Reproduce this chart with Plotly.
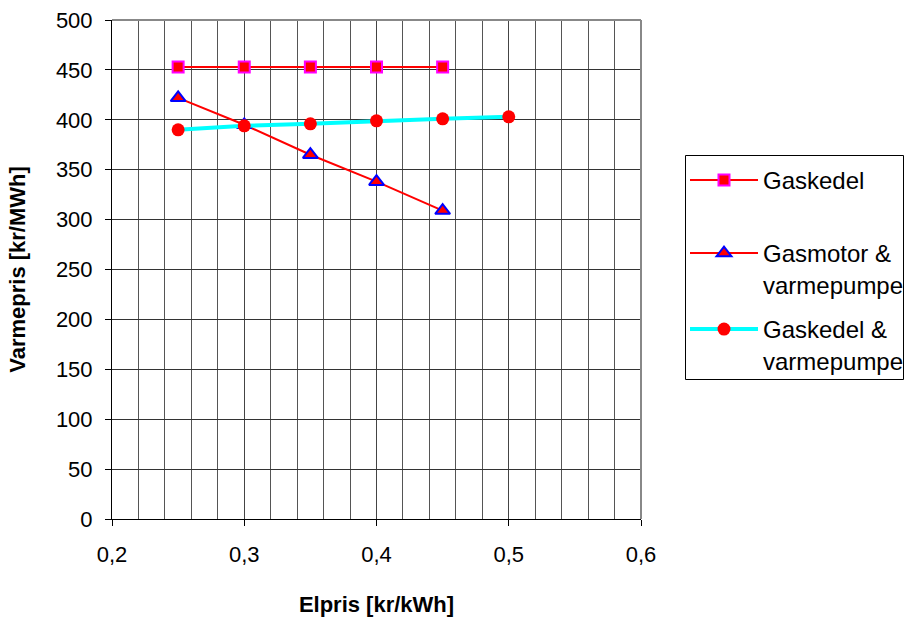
import plotly.graph_objects as go

elpris = [0.25, 0.30, 0.35, 0.40, 0.45]
elpris3 = [0.25, 0.30, 0.35, 0.40, 0.45, 0.50]
gaskedel = [453, 453, 453, 453, 453]
gasmotor_vp = [422, 395, 365, 338, 309]
gaskedel_vp = [390, 394, 396, 399, 401, 403]

FONT = "Liberation Sans, Arial, sans-serif"
FS = 22
LFS = 24

# plot area in pixels (for placing legend decorations)
L, R, T, B = 112, 264, 20, 98
W, H = 905, 617
PW, PH = W - L - R, H - T - B


def px(x):
    return (x - L) / PW


def py(y):
    return (H - B - y) / PH


fig = go.Figure()
fig.add_trace(go.Scatter(
    x=elpris, y=gaskedel, mode="lines+markers", name="Gaskedel", legend="legend",
    showlegend=True,
    line=dict(color="#FF0000", width=2),
    marker=dict(symbol="square", size=11, color="#FF0000", line=dict(color="#FF00FF", width=2)),
))
fig.add_trace(go.Scatter(
    x=elpris, y=gasmotor_vp, mode="lines+markers", name="Gasmotor &<br>varmepumpe", legend="legend2",
    showlegend=True,
    line=dict(color="#FF0000", width=2),
    marker=dict(symbol="triangle-up", size=13, color="#FF0000", line=dict(color="#0000FF", width=2)),
))
fig.add_trace(go.Scatter(
    x=elpris3, y=gaskedel_vp, mode="lines+markers", name="Gaskedel &<br>varmepumpe", legend="legend3",
    showlegend=True,
    line=dict(color="#00FFFF", width=4),
    marker=dict(symbol="circle", size=13, color="#FF0000", line=dict(width=0)),
))

leg_common = dict(xanchor="left", yanchor="top", borderwidth=0, bgcolor="rgba(0,0,0,0)",
                  font=dict(family=FONT, size=LFS, color="black"), valign="top",
                  itemwidth=68)

fig.update_layout(
    width=W, height=H,
    showlegend=True,
    margin=dict(l=L, r=R, t=T, b=B, autoexpand=False),
    paper_bgcolor="white", plot_bgcolor="white",
    font=dict(family=FONT, size=FS, color="black"),
    legend=dict(x=px(685), y=py(158), **leg_common),
    legend2=dict(x=px(685), y=py(231), **leg_common),
    legend3=dict(x=px(685), y=py(307), **leg_common),
    xaxis=dict(
        range=[0.2, 0.6], dtick=0.1, tick0=0.2, tickformat=".1f",
        showgrid=True, gridcolor="#444", gridwidth=1,
        minor=dict(dtick=0.02, tick0=0.2, showgrid=True, gridcolor="#555", gridwidth=1, ticks=""),
        ticks="outside", ticklen=6, tickcolor="black",
        ticklabelstandoff=10, automargin=False,
        showline=True, linecolor="black", linewidth=1,
        zeroline=False,
        title=dict(text="<b>Elpris [kr/kWh]</b>", font=dict(family=FONT, size=FS), standoff=34),
    ),
    yaxis=dict(
        range=[0, 500], dtick=50,
        showgrid=True, gridcolor="#333", gridwidth=1,
        ticks="outside", ticklen=6, tickcolor="black",
        ticklabelstandoff=8, automargin=False,
        showline=True, linecolor="black", linewidth=1,
        zeroline=False,
        title=dict(text="<b>Varmepris [kr/MWh]</b>", font=dict(family=FONT, size=FS), standoff=24),
    ),
    separators=",.",
    shapes=[
        dict(type="line", xref="paper", yref="paper", x0=0, x1=1, y0=1, y1=1,
             line=dict(color="#888", width=2)),
        dict(type="line", xref="paper", yref="paper", x0=1, x1=1, y0=0, y1=1,
             line=dict(color="#888", width=2)),
        # legend frame
        dict(type="rect", xref="paper", yref="paper", x0=px(685.5), x1=px(903.5), y0=py(379.5), y1=py(155.5),
             line=dict(color="black", width=1), fillcolor="white", layer="below"),
        # longer legend sample lines
        dict(type="line", xref="paper", yref="paper", x0=px(695), x1=px(757), y0=py(180), y1=py(180),
             line=dict(color="#FF0000", width=2)),
        dict(type="line", xref="paper", yref="paper", x0=px(695), x1=px(757), y0=py(253), y1=py(253),
             line=dict(color="#FF0000", width=2)),
        dict(type="line", xref="paper", yref="paper", x0=px(695), x1=px(757), y0=py(329), y1=py(329),
             line=dict(color="#00FFFF", width=4)),
    ],
)

fig.write_html("out.html")
